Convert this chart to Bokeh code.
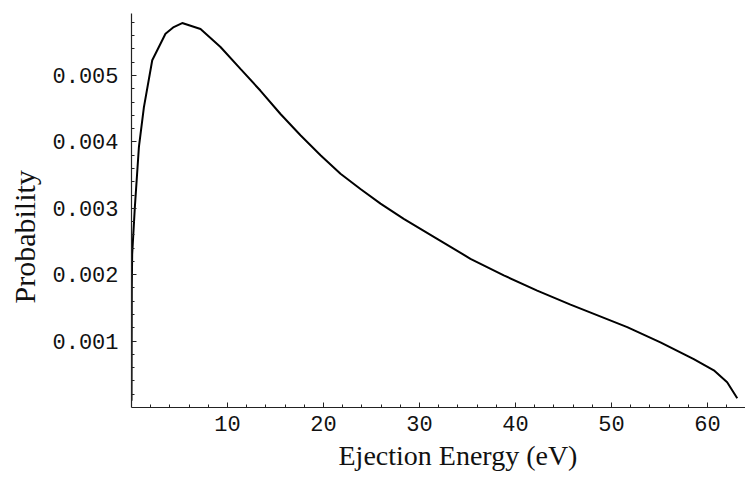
from bokeh.plotting import figure
from bokeh.models import Range1d, FixedTicker, PrintfTickFormatter, Title, ColumnDataSource
from bokeh.embed import file_html
from bokeh.resources import INLINE

# Data
energy = [0.0, 0.03, 0.07, 0.35, 0.77, 1.29, 2.16, 3.54, 4.4, 5.28, 7.19, 9.27, 11.35,
          13.44, 15.52, 17.6, 19.69, 21.77, 23.85, 25.94, 28.36, 31.84, 35.31, 38.78,
          42.26, 45.73, 48.16, 51.64, 55.1, 58.57, 60.66, 62.05, 63.1]
probability = [0.0001, 0.00181, 0.00231, 0.00302, 0.00392, 0.00452, 0.00523, 0.00563,
               0.00573, 0.00579, 0.00570, 0.00543, 0.00510, 0.00477, 0.00442, 0.00410,
               0.00380, 0.00352, 0.00329, 0.00307, 0.00284, 0.00254, 0.00224, 0.00199,
               0.00176, 0.00155, 0.00141, 0.00121, 0.00098, 0.00073, 0.00056, 0.00038,
               0.00014]

x_major_ticks = [10, 20, 30, 40, 50, 60]
x_minor_ticks = [2, 4, 6, 8, 12, 14, 16, 18, 22, 24, 26, 28, 32, 34, 36, 38,
                 42, 44, 46, 48, 52, 54, 56, 58, 62]
y_major_ticks = [0.001, 0.002, 0.003, 0.004, 0.005]
y_minor_ticks = [0.0002, 0.0004, 0.0006, 0.0008, 0.0012, 0.0014, 0.0016, 0.0018,
                 0.0022, 0.0024, 0.0026, 0.0028, 0.0032, 0.0034, 0.0036, 0.0038,
                 0.0042, 0.0044, 0.0046, 0.0048, 0.0052, 0.0054, 0.0056, 0.0058]

x_label = "Ejection Energy (eV)"
y_label = "Probability"

p = figure(width=745, height=478, output_backend="svg", toolbar_location=None,
           x_range=Range1d(0, 63.96), y_range=Range1d(0, 0.005934),
           min_border_left=131, min_border_right=0, min_border_top=13, min_border_bottom=71)
p.outline_line_color = None
p.background_fill_color = "white"
p.border_fill_color = "white"
p.xgrid.visible = False
p.ygrid.visible = False

src = ColumnDataSource(dict(x=energy, y=probability))
p.line("x", "y", source=src, line_color="black", line_width=2)

for ax in (p.xaxis[0], p.yaxis[0]):
    ax.axis_line_color = "#222222"
    ax.axis_line_width = 1.2
    ax.major_tick_line_color = "#222222"
    ax.minor_tick_line_color = "#222222"
    ax.major_tick_out = 0
    ax.minor_tick_out = 0
    ax.major_tick_in = 5
    ax.minor_tick_in = 3
    ax.major_label_text_font = "Liberation Mono"
    ax.major_label_text_font_size = "22px"
    ax.major_label_text_color = "#111111"

p.xaxis.ticker = FixedTicker(ticks=x_major_ticks, minor_ticks=x_minor_ticks)
p.yaxis.ticker = FixedTicker(ticks=y_major_ticks, minor_ticks=y_minor_ticks)
p.yaxis.formatter = PrintfTickFormatter(format="%.3f")
p.xaxis.major_label_standoff = 8
p.yaxis.major_label_standoff = 13

p.add_layout(Title(text=x_label, text_font="Liberation Serif", text_font_size="28px",
                   text_font_style="normal", text_color="#111111", align="left",
                   offset=207, standoff=9, text_line_height=0.7,
                   vertical_align="bottom"), "below")
p.add_layout(Title(text=y_label, text_font="Liberation Serif", text_font_size="30px",
                   text_font_style="normal", text_color="#111111", align="left",
                   offset=104, standoff=13, vertical_align="top"), "left")

open("out.html", "w").write(file_html(p, INLINE))
